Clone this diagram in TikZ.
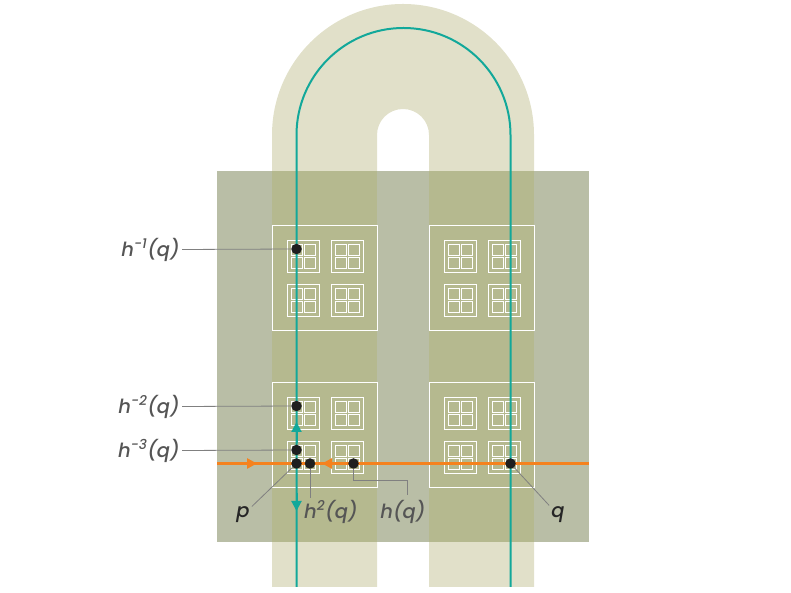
\documentclass[tikz,border=0pt]{standalone}
\usepackage{fontspec}
\setmainfont{Poppins}
\newfontfamily\labfont{Poppins Medium Italic}
\usetikzlibrary{arrows.meta}
\definecolor{horse}{HTML}{E1E0C9}
\definecolor{slab}{HTML}{B9BEA6}
\definecolor{overlap}{HTML}{B5B98F}
\definecolor{flow}{HTML}{12A89A}
\definecolor{orbit}{HTML}{F5821E}
\definecolor{ink}{HTML}{555555}
\tikzset{
  pt/.style={circle,fill=black!88,inner sep=0pt,minimum size=10.5pt},
  lab/.style={text=ink,font=\fontsize{19.5}{22}\labfont,inner sep=2pt},
  lead/.style={draw=black!50,line width=0.8pt},
  sq/.style={draw=white,line width=0.9pt},
}

\begin{document}
\begin{tikzpicture}[x=1pt,y=1pt]
  \useasboundingbox (0,0) rectangle (791,593);

  % horseshoe and the square
  \fill[horse] (272,6) -- (272,458) arc (180:0:131) -- (534,6) -- (429,6) -- (429,458) arc (0:180:26) -- (377,6) -- cycle;
  \fill[slab] (217,51) rectangle (589,422);
  \fill[overlap] (272,51) rectangle (377,422);
  \fill[overlap] (429,51) rectangle (534,422);

  % boxes
  \foreach \bx in {272,429}
    \foreach \by in {106,263}{
      \draw[sq] (\bx,\by) rectangle +(105,105);
      \foreach \mx in {15,59}
        \foreach \my in {14,58}{
          \draw[sq] (\bx+\mx,\by+\my) rectangle +(32,32);
          \foreach \sx in {4,17}
            \foreach \sy in {4,17}
              \draw[sq] (\bx+\mx+\sx,\by+\my+\sy) rectangle +(11,11);
        }
    }

  % orbits
  \draw[flow,line width=2pt] (296.5,6) -- (296.5,458) arc (180:0:107) -- (510.5,6);
  \draw[orbit,line width=2.5pt] (217,129.5) -- (589,129.5);
  \draw[orbit,line width=2.5pt,-{Triangle[length=10pt,width=10pt]}] (240,129.5) -- (257,129.5);
  \draw[orbit,line width=2.5pt,-{Triangle[length=10pt,width=10pt]}] (340,129.5) -- (322,129.5);
  \draw[flow,line width=2pt,-{Triangle[length=10pt,width=10pt]}] (296.5,150) -- (296.5,171);
  \draw[flow,line width=2pt,-{Triangle[length=10pt,width=10pt]}] (296.5,100) -- (296.5,82);

  % points
  \node[pt] (dm1) at (296.5,344) {};
  \node[pt] (dm2) at (296.5,187) {};
  \node[pt] (dm3) at (296.5,143) {};
  \node[pt] (dp) at (296.5,129.5) {};
  \node[pt] (dh2) at (310,129.5) {};
  \node[pt] (dh) at (353.5,129.5) {};
  \node[pt] (dq) at (510.5,129.5) {};

  % labels
  \node[lab,anchor=east] (lm1) at (182,343.5) {h\textsuperscript{-1}(q)};
  \node[lab,anchor=east] (lm2) at (182,186.5) {h\textsuperscript{-2}(q)};
  \node[lab,anchor=east] (lm3) at (182,142.5) {h\textsuperscript{-3}(q)};
  \node[lab,text=black!85] (lp) at (243,78) {p};
  \node[lab,anchor=north west] (lh2) at (302,95) {h\textsuperscript{2}(q)};
  \node[lab,anchor=north] (lh) at (403,95) {h(q)};
  \node[lab,text=black!85] (lq) at (558,78) {q};

  \draw[lead] (lm1.east) -- (dm1);
  \draw[lead] (lm2.east) -- (dm2);
  \draw[lead] (lm3.east) -- (dm3);
  \draw[lead] (lp) -- (dp);
  \draw[lead] (dh2) -- (dh2 |- lh2.north);
  \draw[lead] (dh) |- ([xshift=4.5pt,yshift=18pt]lh.north) -- ([xshift=4.5pt,yshift=3pt]lh.north);
  \draw[lead] (lq) -- (dq);

\end{tikzpicture}
\end{document}
